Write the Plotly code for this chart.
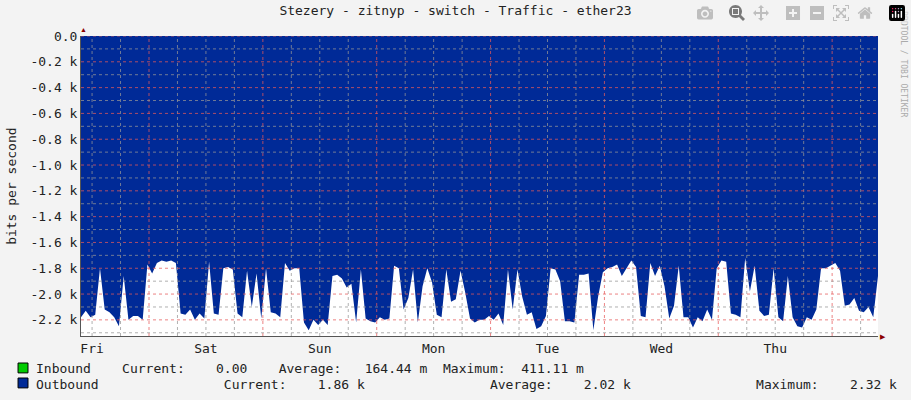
import pandas as pd
import plotly.graph_objects as go

# outbound traffic, bits per second, hourly samples starting Fri 09:40
outbound = [
    2180, 2130, 2180, 2160, 1800, 2120, 2140, 2180, 2250, 1860,
    2200, 2170, 2170, 2200, 1770, 1840, 1760, 1740, 1750, 1740,
    1760, 2150, 2160, 2120, 2200, 2150, 2190, 1750, 2150, 2160,
    1800, 1790, 1810, 2150, 2180, 1820, 2100, 1840, 2190, 1800,
    2140, 2150, 2180, 1760, 1820, 1800, 1800, 2220, 2280, 2200,
    2240, 2200, 2240, 1860, 1850, 1880, 1950, 1920, 2220, 1810,
    2190, 2210, 2220, 2180, 2200, 2190, 1780, 1800, 2120, 2030,
    1810, 2220, 1940, 1800, 1910, 2160, 2180, 1810, 2060, 2040,
    1820, 1990, 2190, 2220, 2200, 2200, 2170, 2200, 2150, 2240,
    1810, 2120, 1810, 2020, 2160, 2140, 2270, 2250, 2170, 1800,
    1810, 1900, 2210, 2210, 2220, 1850, 1850, 1840, 2280, 2020,
    1830, 1800, 1790, 1770, 1860, 1800, 1740, 1790, 2170, 2180,
    1760, 1860, 1780, 1940, 2190, 2090, 1780, 2180, 2180, 2260,
    2180, 2210, 2120, 2200, 1800, 1740, 1750, 2150, 2160, 2180,
    1720, 1980, 1780, 2130, 2170, 2160, 1800, 2180, 2210, 1860,
    2180, 2250, 2260, 2180, 2200, 2120, 1800, 1800, 1780, 1760,
    1820, 2090, 2080, 2030, 2130, 2140, 2100, 2180, 1860,
]
start = pd.Timestamp('2024-01-05 09:40')
times = pd.date_range(start, periods=len(outbound), freq='h')
days = ['Fri', 'Sat', 'Sun', 'Mon', 'Tue', 'Wed', 'Thu']
ytick_vals = [-200 * i for i in range(12)]
ytick_text = ['0.0'] + ['-%.1f k' % (0.2 * i) for i in range(1, 12)]

end = start + pd.Timedelta(hours=168)
ymin = -2325

fig = go.Figure()
fig.add_trace(go.Scatter(x=times, y=[-v for v in outbound], mode='lines',
                         line=dict(width=0, color='#002A97'), fill='tozeroy',
                         fillcolor='#002A97', hoverinfo='skip'))

noons = [pd.Timestamp('2024-01-05 12:00') + pd.Timedelta(days=i) for i in range(7)]

# grid drawn above the area, like rrdtool
shapes = []
minor = 'rgba(150,150,150,0.75)'
major = 'rgba(230,90,90,0.75)'
t = pd.Timestamp('2024-01-05 12:00')
while t < end:
    col = major if t.hour == 0 else minor
    shapes.append(dict(type='line', xref='x', yref='paper', x0=t, x1=t, y0=0, y1=1,
                       line=dict(color=col, width=1, dash='dot'), layer='above'))
    t += pd.Timedelta(hours=6)
for i in range(24):
    yv = -100 * i
    col = major if i % 2 == 0 else minor
    shapes.append(dict(type='line', xref='paper', yref='y', x0=0, x1=1, y0=yv, y1=yv,
                       line=dict(color=col, width=1, dash='dot'), layer='above'))
# legend swatches
shapes.append(dict(type='rect', xref='paper', yref='paper', x0=-0.079, x1=-0.0665,
                   y0=-0.123, y1=-0.09, fillcolor='#00CC00', line=dict(color='black', width=1)))
shapes.append(dict(type='rect', xref='paper', yref='paper', x0=-0.079, x1=-0.0665,
                   y0=-0.173, y1=-0.14, fillcolor='#002A97', line=dict(color='black', width=1)))

mono = 'DejaVu Sans Mono'
line1 = 'Inbound    Current:    0.00    Average:   164.44 m  Maximum:  411.11 m'
line2 = 'Outbound                Current:    1.86 k                Average:    2.02 k                Maximum:    2.32 k'
annotations = [
    dict(text=line1, xref='paper', yref='paper', x=-0.059, y=-0.107, xanchor='left',
         yanchor='middle', showarrow=False, font=dict(family=mono, size=13, color='#222')),
    dict(text=line2, xref='paper', yref='paper', x=-0.059, y=-0.16, xanchor='left',
         yanchor='middle', showarrow=False, font=dict(family=mono, size=13, color='#222')),
    dict(text='bits per second', xref='paper', yref='paper', x=-0.088, y=0.5,
         xanchor='center', yanchor='middle', textangle=-90, showarrow=False,
         font=dict(family=mono, size=13, color='#222')),
    dict(text='RRDTOOL / TOBI OETIKER', xref='paper', yref='paper', x=1.031, y=1.09,
         xanchor='center', yanchor='top', textangle=90, showarrow=False,
         font=dict(family=mono, size=8, color='#aaa')),
    dict(text='▲', xref='paper', yref='paper', x=0.003, y=1.0, xanchor='center',
         yanchor='bottom', showarrow=False, font=dict(size=7, color='#8b0000')),
    dict(text='▶', xref='paper', yref='paper', x=1.0, y=0.0, xanchor='left',
         yanchor='middle', showarrow=False, font=dict(size=7, color='#8b0000')),
]

fig.update_layout(
    width=911, height=400,
    margin=dict(l=81, r=33, t=36, b=64),
    paper_bgcolor='#F3F3F3', plot_bgcolor='white',
    showlegend=False,
    title=dict(text='Stezery - zitnyp - switch - Traffic - ether23', x=0.5, y=0.985,
               xanchor='center', yanchor='top',
               font=dict(family=mono, size=13, color='#222')),
    shapes=shapes, annotations=annotations,
)
fig.update_xaxes(range=[start, end], tickvals=noons, ticktext=days, showgrid=False,
                 ticks='', showline=True, linecolor='#555', zeroline=False,
                 tickfont=dict(family=mono, size=13, color='#222'))
fig.update_yaxes(range=[ymin, 0], tickvals=ytick_vals, ticktext=ytick_text, showgrid=False,
                 ticks='', showline=True, linecolor='#555', zeroline=False,
                 tickfont=dict(family=mono, size=13, color='#222'))

fig.write_html("out.html", post_script="document.body.style.margin='0';")
